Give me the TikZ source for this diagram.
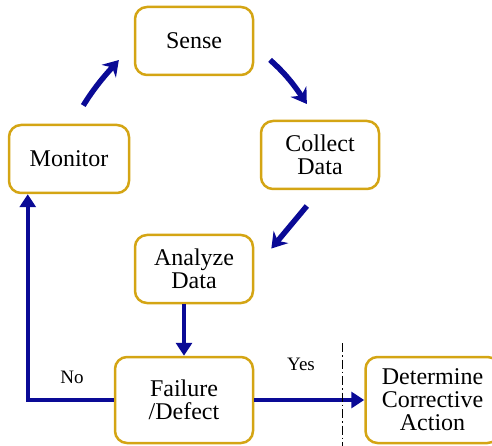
\documentclass[tikz,border=0pt]{standalone}
\usepackage{fontspec}
\setmainfont{Liberation Serif}
\usetikzlibrary{arrows.meta}
\usetikzlibrary{positioning}
\usetikzlibrary{calc}
\definecolor{boxgold}{RGB}{212,165,20}
\definecolor{arrowblue}{RGB}{10,10,150}

\begin{document}
\begin{tikzpicture}[
    x=1pt, y=1pt,
    every node/.style={align=center, font=\rmfamily\fontsize{24}{23}\selectfont},
    stepbox/.style={draw=boxgold, line width=2.5pt, rounded corners=12pt, minimum width=118pt, minimum height=68pt, inner sep=0pt},
    bigbox/.style={stepbox, minimum width=138pt, minimum height=86pt},
    cycle/.style={draw=arrowblue, line width=5.5pt, -{Stealth[length=15pt,width=19pt,inset=5pt]}},
    flow/.style={draw=arrowblue, line width=4pt, -{Triangle[length=13pt,width=16pt]}},
    answer/.style={font=\rmfamily\fontsize{19}{22}\selectfont}
]
    \useasboundingbox (0,0) rectangle (492,-446);

    % Cycle boxes
    \node[stepbox] (sense) at (194,-41) {Sense};
    \node[stepbox] (collect) at (320,-155) {Collect\\Data};
    \node[stepbox, minimum width=120pt] (monitor) at (69,-159) {Monitor};
    \node[stepbox] (analyze) at (194,-269) {Analyze\\Data};

    % Decision and action
    \node[bigbox] (failure) at (184,-400) {Failure\\/Defect};
    \node[bigbox, minimum width=134pt, right=110pt of failure] (determine) {Determine\\Corrective\\Action};

    % Ends of the curved arrows
    \coordinate (ms1) at ($(monitor.north)!0.22!(sense.west)$);
    \coordinate (ms2) at ($(monitor.north)!0.77!(sense.west)$);
    \coordinate (sc1) at ($(sense.east)!0.24!(collect.north)$);
    \coordinate (sc2) at ($(sense.east)!0.80!(collect.north)$);
    \coordinate (ca1) at ($(collect.south)!0.20!(analyze.east)$);
    \coordinate (ca2) at ($(collect.south)!0.74!(analyze.east)$);

    \draw[cycle] (ms1) .. controls +(58:18) and +(228:28) .. (ms2);
    \draw[cycle] (sc1) .. controls +(-42:18) and +(124:28) .. (sc2);
    \draw[cycle] (ca1) -- (ca2);

    % Straight flow
    \draw[flow] (analyze.south -| failure.north) -- (failure.north);
    \draw[flow] (failure.west) -| ([xshift=20pt]monitor.south west);
    \draw[flow] (failure.east) -- (determine.west);

    \node[answer] (no) at (72,-377) {No};
    \node[answer] (yes) at (301,-364) {Yes};

    % separator
    \draw[line width=0.8pt, dash pattern=on 9pt off 3pt on 1.5pt off 3pt] (342,-343) -- (342,-446);
\end{tikzpicture}
\end{document}
